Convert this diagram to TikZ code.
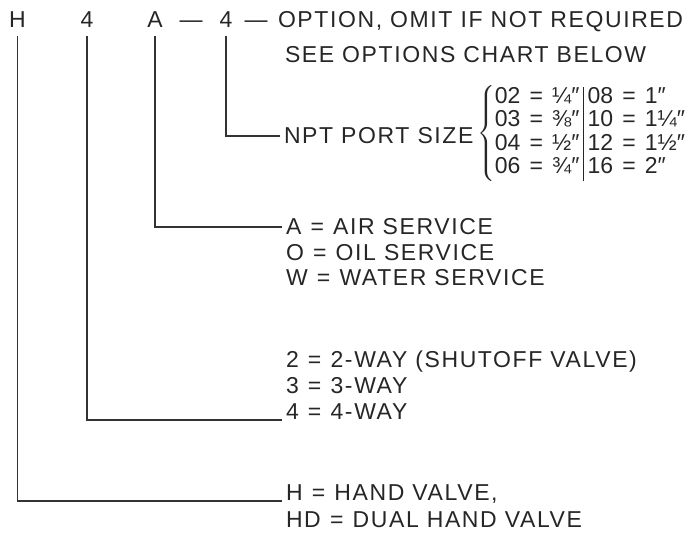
\documentclass[tikz,border=0pt]{standalone}
\usepackage{fontspec}
\setmainfont{Liberation Sans}[LetterSpace=7]
\usetikzlibrary{positioning}
\setlength{\tabcolsep}{2pt}
\setlength{\arrayrulewidth}{0.75pt}
\newcommand{\sizeeq}{\hspace{0.4em}=\hspace{0.4em}}
\tikzset{font=\fontsize{11.5}{11.75}\selectfont}

\begin{document}
\begin{tikzpicture}[x=0.5pt, y=-0.5pt, line width=0.75pt, draw=black!80]
	\useasboundingbox (0,0) rectangle (696,533);
	\begin{scope}
		\tikzstyle{every node}=[inner sep=2pt, outer sep=0pt, text=black!85]
		\tikzstyle{code}=[anchor=base, inner sep=4pt]
		\tikzstyle{entry}=[anchor=base west]

		% model number
		\node[code] (h) at (17.5, 28) {H};
		\node[code] (way) at (87, 28) {4};
		\node[code] (svc) at (155, 28) {A};
		\node[code] (dasha) at (191, 28) {—};
		\node[code] (port) at (226, 28) {4};
		\node[code] (dashb) at (256, 28) {—};
		\node[entry] (option) at (274, 28) {OPTION, OMIT IF NOT REQUIRED};
		\node[entry] (chart) at (281, 63) {SEE OPTIONS CHART BELOW};

		% meaning of each place
		\node[entry] (npt) at (280, 144) {NPT PORT SIZE};
		\node[anchor=west, inner sep=0pt] (sizes) at (477, 134)
			{\addfontfeature{LetterSpace=0}$\left\{\begin{tabular}{@{}l|l@{}}
				02\sizeeq¼″ & 08\sizeeq1″\\
				03\sizeeq⅜″ & 10\sizeeq1¼″\\
				04\sizeeq½″ & 12\sizeeq1½″\\
				06\sizeeq¾″ & 16\sizeeq2″
			\end{tabular}\right.$};

		\node[entry] (air) at (282, 235) {A\sizeeq AIR SERVICE};
		\node[entry] (oil) at (282, 261) {O\sizeeq OIL SERVICE};
		\node[entry] (water) at (282, 286) {W\sizeeq WATER SERVICE};

		\node[entry] (way2) at (282, 368) {2\sizeeq 2-WAY (SHUTOFF VALVE)};
		\node[entry] (way3) at (282, 394) {3\sizeeq 3-WAY};
		\node[entry] (way4) at (282, 420) {4\sizeeq 4-WAY};

		\node[entry] (hand) at (282, 501) {H\sizeeq HAND VALVE,};
		\node[entry] (dual) at (282, 528) {HD\sizeeq DUAL HAND VALVE};

		\draw (port.south) |- (npt.west);
		\draw (svc.south) |- (air.west);
		\draw (way.south) |- (way4.base west);
		\draw (h.south) |- (hand.base west);
	\end{scope}
\end{tikzpicture}
\end{document}
